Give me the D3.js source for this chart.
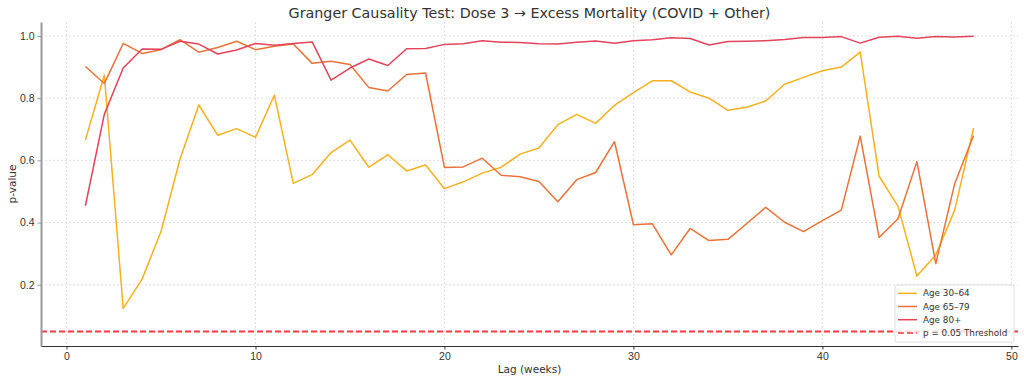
<!DOCTYPE html>
<html>
<head>
<meta charset="utf-8">
<script src="https://cdn.jsdelivr.net/npm/d3@7"></script>
<style>
  body { margin: 0; background: #fff; }
  svg { font-family: "DejaVu Sans", sans-serif; }
  .grid line { stroke: #d8d8d8; stroke-dasharray: 2,2; stroke-width: 0.8; }
  .tick text { fill: #333; font-size: 10.5px; }
</style>
</head>
<body>
<svg id="chart" width="1024" height="381"></svg>
<script>
var lags = d3.range(1, 49);

var age3064 = [0.665, 0.874, 0.124, 0.218, 0.371, 0.603, 0.778, 0.681, 0.702, 0.674,
  0.810, 0.526, 0.554, 0.625, 0.665, 0.578, 0.618, 0.566, 0.585, 0.509,
  0.531, 0.559, 0.578, 0.620, 0.640, 0.715, 0.748, 0.719, 0.777, 0.818,
  0.856, 0.856, 0.820, 0.800, 0.761, 0.771, 0.791, 0.845, 0.867, 0.888,
  0.900, 0.948, 0.549, 0.453, 0.228, 0.296, 0.440, 0.704];

var age6579 = [0.902, 0.847, 0.976, 0.944, 0.956, 0.988, 0.948, 0.963, 0.983, 0.956,
  0.967, 0.974, 0.912, 0.919, 0.908, 0.834, 0.823, 0.876, 0.881, 0.577,
  0.579, 0.607, 0.552, 0.547, 0.532, 0.467, 0.538, 0.561, 0.660, 0.393,
  0.396, 0.296, 0.381, 0.342, 0.346, 0.397, 0.449, 0.401, 0.371, 0.406,
  0.440, 0.678, 0.352, 0.412, 0.596, 0.268, 0.525, 0.680];

var age80 = [0.454, 0.748, 0.897, 0.958, 0.957, 0.983, 0.974, 0.942, 0.955, 0.976,
  0.970, 0.976, 0.981, 0.858, 0.897, 0.926, 0.905, 0.959, 0.960, 0.973,
  0.975, 0.985, 0.980, 0.979, 0.975, 0.974, 0.980, 0.984, 0.977, 0.985,
  0.988, 0.994, 0.992, 0.971, 0.982, 0.983, 0.985, 0.989, 0.995, 0.995,
  0.998, 0.977, 0.996, 0.999, 0.993, 0.998, 0.997, 0.999];

var threshold = 0.05;
var xTicks = [0, 10, 20, 30, 40, 50];
var yTicks = [0.2, 0.4, 0.6, 0.8, 1.0];

var series = [
  {name: "Age 30\u201364", values: age3064, color: "#f5b120"},
  {name: "Age 65\u201379", values: age6579, color: "#e8733a"},
  {name: "Age 80+", values: age80, color: "#e2445c"}
];

var margin = {top: 22, right: 6, bottom: 35, left: 41};
var width = 1024 - margin.left - margin.right,
    height = 381 - margin.top - margin.bottom;

var svg = d3.select("#chart");
var g = svg.append("g")
    .attr("transform", "translate(" + margin.left + "," + margin.top + ")");

var x = d3.scaleLinear().domain([-1.35, 50.35]).range([0, width]);
var y = d3.scaleLinear().domain([0.003, 1.045]).range([height, 0]);

// grid
g.append("g").attr("class", "grid")
    .selectAll("line").data(xTicks).enter().append("line")
    .attr("x1", function (d) { return x(d); })
    .attr("x2", function (d) { return x(d); })
    .attr("y1", 0).attr("y2", height);
g.append("g").attr("class", "grid")
    .selectAll("line").data(yTicks).enter().append("line")
    .attr("y1", function (d) { return y(d); })
    .attr("y2", function (d) { return y(d); })
    .attr("x1", 0).attr("x2", width);

// threshold
g.append("line")
    .attr("x1", 0).attr("x2", width)
    .attr("y1", y(threshold)).attr("y2", y(threshold))
    .attr("stroke", "#f03c42")
    .attr("stroke-width", 2)
    .attr("stroke-dasharray", "6,3");

var line = d3.line()
    .x(function (d, i) { return x(lags[i]); })
    .y(function (d) { return y(d); });

series.forEach(function (s) {
    g.append("path")
        .datum(s.values)
        .attr("fill", "none")
        .attr("stroke", s.color)
        .attr("stroke-width", 1.5)
        .attr("stroke-linejoin", "round")
        .attr("d", line);
});

// axes
var xAxis = g.append("g")
    .attr("transform", "translate(0," + height + ")")
    .call(d3.axisBottom(x).tickValues(xTicks).tickSize(3.5).tickSizeOuter(0).tickPadding(3));
xAxis.select(".domain").attr("stroke", "#333");
xAxis.selectAll(".tick line").attr("stroke", "#333");

var yAxis = g.append("g")
    .call(d3.axisLeft(y).tickValues(yTicks).tickFormat(d3.format(".1f")).tickSize(3.5).tickSizeOuter(0).tickPadding(3));
yAxis.select(".domain").attr("stroke", "#999").attr("stroke-width", 2);
yAxis.selectAll(".tick line").attr("stroke", "#999");

// labels
svg.append("text")
    .attr("x", margin.left + width / 2).attr("y", 18)
    .attr("text-anchor", "middle")
    .attr("font-size", 14.3).attr("fill", "#333")
    .text("Granger Causality Test: Dose 3 \u2192 Excess Mortality (COVID + Other)");

svg.append("text")
    .attr("x", margin.left + width / 2).attr("y", 373)
    .attr("text-anchor", "middle")
    .attr("font-size", 10.5).attr("fill", "#333")
    .text("Lag (weeks)");

svg.append("text")
    .attr("transform", "translate(16," + (margin.top + height / 2) + ") rotate(-90)")
    .attr("text-anchor", "middle")
    .attr("font-size", 10.5).attr("fill", "#333")
    .text("p-value");

// legend
var legendItems = series.map(function (s) {
    return {name: s.name, color: s.color, dash: null};
});
legendItems.push({name: "p = 0.05 Threshold", color: "#f03c42", dash: "6,3"});

var legend = svg.append("g").attr("transform", "translate(895,285)");
legend.append("rect")
    .attr("width", 119).attr("height", 57)
    .attr("rx", 2)
    .attr("fill", "#fff").attr("fill-opacity", 0.8)
    .attr("stroke", "#ddd");

var rows = legend.selectAll(".item").data(legendItems).enter().append("g")
    .attr("transform", function (d, i) { return "translate(0," + (8.3 + i * 13.2) + ")"; });
rows.append("line")
    .attr("x1", 3).attr("x2", 22)
    .attr("stroke", function (d) { return d.color; })
    .attr("stroke-width", 1.5)
    .attr("stroke-dasharray", function (d) { return d.dash; });
rows.append("text")
    .attr("x", 28).attr("dy", "0.35em")
    .attr("font-size", 8.8).attr("fill", "#333")
    .text(function (d) { return d.name; });
</script>
</body>
</html>
